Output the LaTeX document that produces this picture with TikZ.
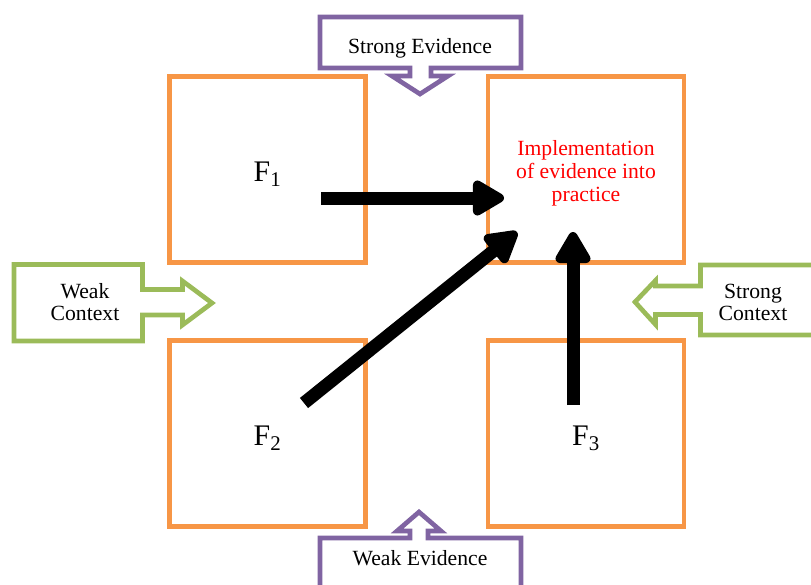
\documentclass[tikz,border=0pt]{standalone}
\usepackage{fontspec}
\setmainfont{Liberation Serif}
\usetikzlibrary{arrows.meta}
\definecolor{boxorange}{HTML}{F79646}
\definecolor{ctxgreen}{HTML}{9BBB59}
\definecolor{evpurple}{HTML}{8064A2}

\begin{document}
\begin{tikzpicture}[x=0.03cm,y=-0.03cm,
  fbox/.style={draw=boxorange,line width=0.135cm,minimum width=5.88cm,minimum height=5.58cm,inner sep=0pt,text height=21.2pt,text depth=0pt,font=\fontsize{25.5}{30}\selectfont},
  evcall/.style={draw=evpurple,line width=0.14cm},
  ctxcall/.style={draw=ctxgreen,line width=0.14cm},
  lbl/.style={font=\fontsize{18.5}{18.7}\selectfont,align=center,inner sep=0pt},
  bigarrow/.style={line width=0.39cm,-{Triangle[width=1.17cm,length=1.08cm,round]}}]
\useasboundingbox (0,0) rectangle (811,584);
\clip (0,0) rectangle (811,584);

\node[fbox] (f1) at (267.5,169.5) {F\textsubscript{1}};
\node[fbox] (goal) at (586,169.5) {};
\node[fbox] (f2) at (267.5,433.5) {F\textsubscript{2}};
\node[fbox] (f3) at (586,433.5) {F\textsubscript{3}};
\node[lbl,text=red,font=\fontsize{18.5}{19.6}\selectfont] (impl) at (586,173) {Implementation\\of evidence into\\practice};

\draw[evcall] (320,17) -- (521,17) -- (521,68) -- (431,68) -- (431,76) -- (448,76) -- (420,94) -- (392,76) -- (410,76) -- (410,68) -- (320,68) -- cycle;
\draw[evcall] (320,600) -- (320,538) -- (410,538) -- (410,531) -- (397,531) -- (419,512) -- (441,531) -- (428,531) -- (428,538) -- (521,538) -- (521,600);
\draw[ctxcall] (14,264.5) -- (142.5,264.5) -- (142.5,289.5) -- (182.5,289.5) -- (182.5,281) -- (212,303) -- (182.5,325) -- (182.5,315) -- (142.5,315) -- (142.5,341) -- (14,341) -- cycle;
\draw[ctxcall] (820,265) -- (700.5,265) -- (700.5,286) -- (655.5,286) -- (655.5,280.5) -- (635,302) -- (655.5,324.5) -- (655.5,314.5) -- (700.5,314.5) -- (700.5,335) -- (820,335);

\node[lbl,anchor=base] (strongev) at (420,53) {Strong Evidence};
\node[lbl,anchor=base] (weakev) at (420,565) {Weak Evidence};
\node[lbl] (weakctx) at (85,302) {Weak\\Context};
\node[lbl] (strongctx) at (753,302) {Strong\\Context};

\coordinate (a1s) at (321,198);
\coordinate (a1e) at (504,198);
\coordinate (a2s) at (304,403);
\coordinate (a2e) at (517,232);
\coordinate (a3s) at (573,405);
\coordinate (a3e) at (573,232);
\draw[bigarrow] (a1s) -- (a1e);
\draw[bigarrow] (a2s) -- (a2e);
\draw[bigarrow] (a3s) -- (a3e);
\end{tikzpicture}
\end{document}
